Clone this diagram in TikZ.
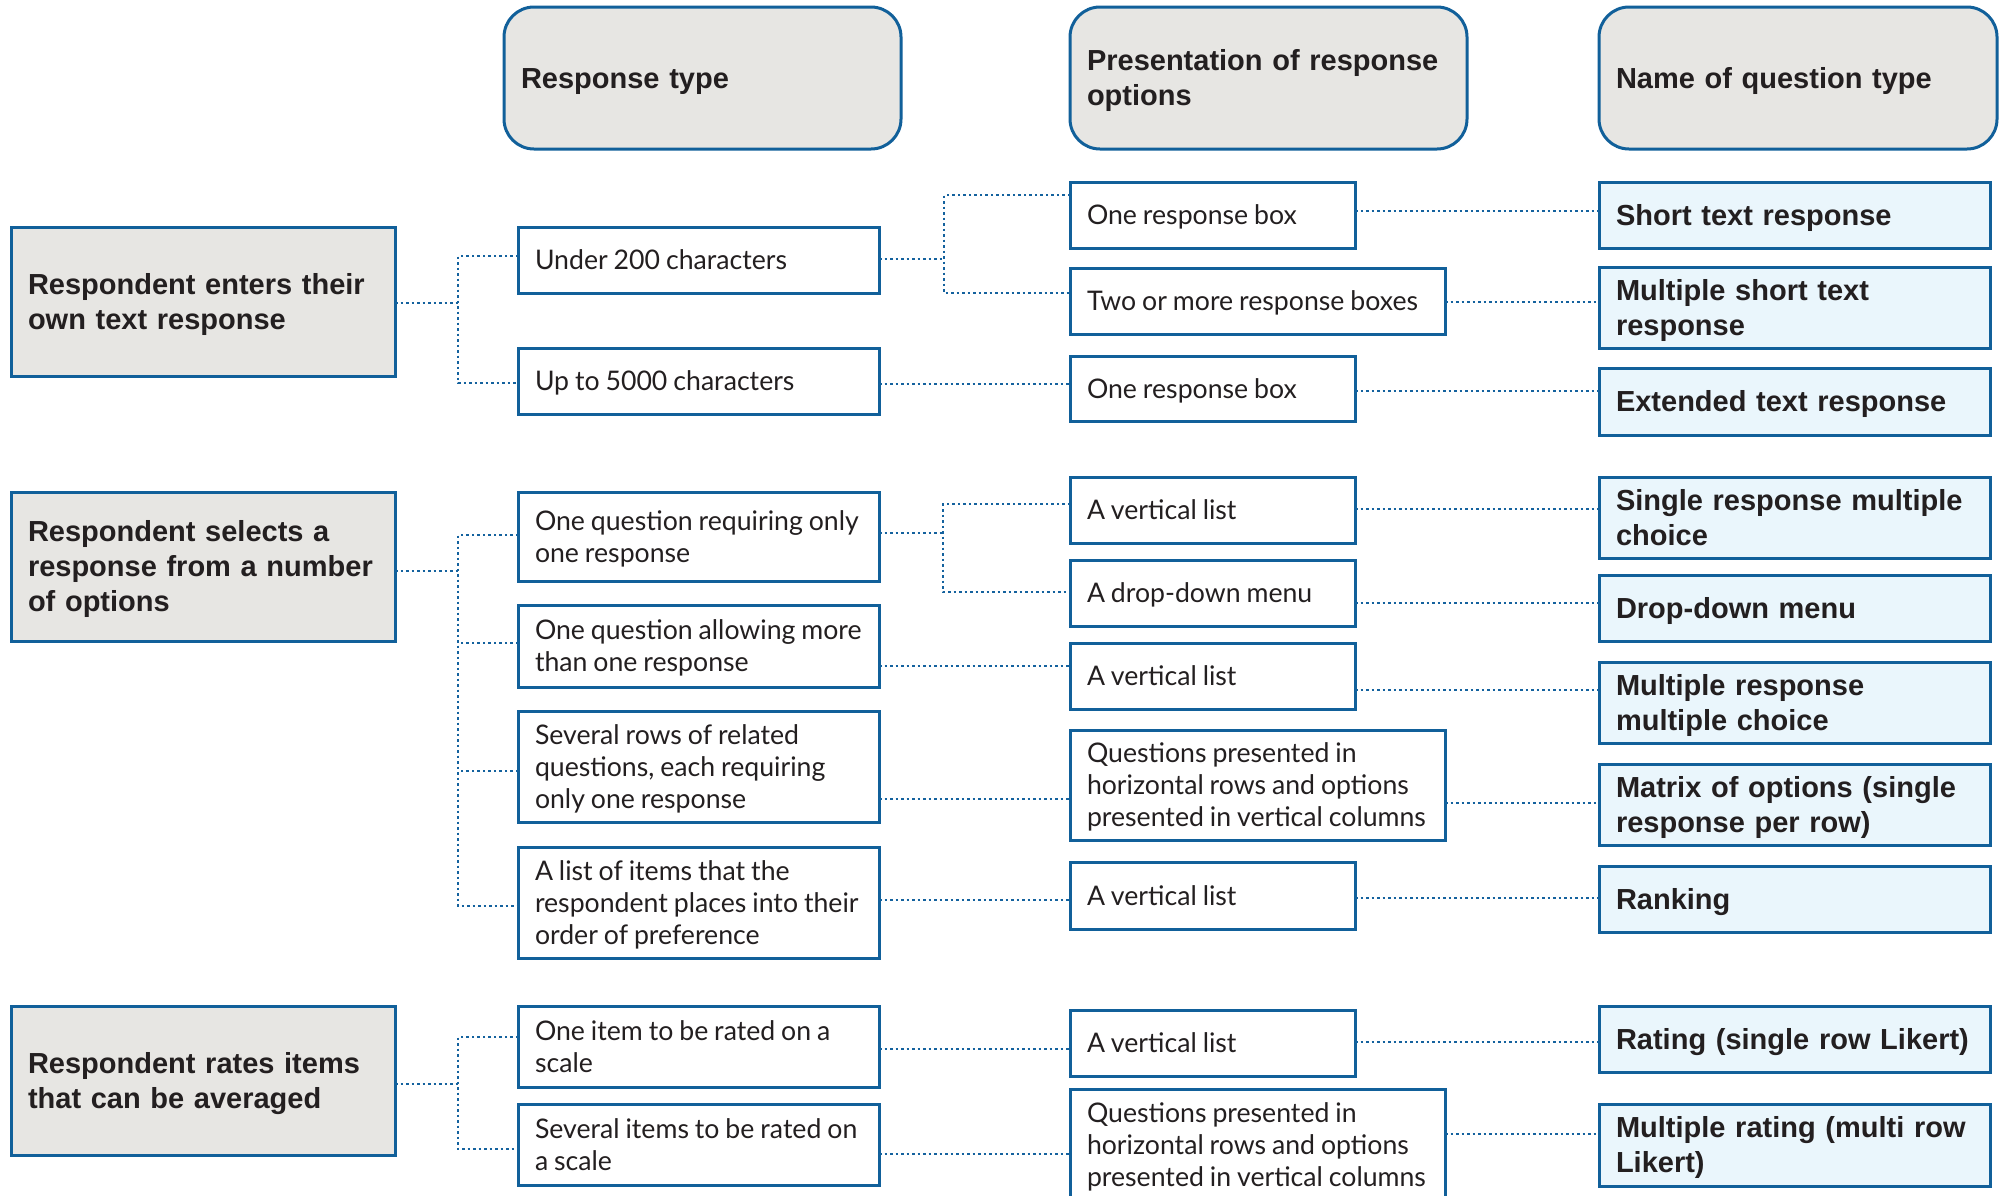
\documentclass[tikz,border=0pt]{standalone}
\usepackage{fontspec}
\setmainfont{Lato}[FakeStretch=0.987]
\newfontfamily\hdfont{Liberation Sans}
\definecolor{bordc}{RGB}{17,96,154}
\definecolor{linkc}{RGB}{20,98,158}
\definecolor{grayc}{RGB}{231,230,227}
\definecolor{bluec}{RGB}{234,246,252}
\definecolor{txtc}{RGB}{35,31,32}
\begin{document}
\begin{tikzpicture}[x=1pt,y=-1pt,
  base/.style={draw=bordc, line width=3pt, inner xsep=17pt, inner ysep=0pt,
    outer sep=0pt, anchor=north west, align=left, text=txtc,
    execute at begin node={\rule{0pt}{0.966em}},
    execute at end node={\rule[-0.25em]{0pt}{0pt}}},
  hdr/.style={base, fill=grayc, rounded corners=30pt, font=\hdfont\bfseries\fontsize{29}{35}\selectfont},
  cat/.style={base, fill=grayc, font=\hdfont\bfseries\fontsize{29}{35}\selectfont},
  opt/.style={base, fill=white, font=\fontsize{27}{32}\selectfont,
    execute at begin node={\spaceskip=0.87\fontdimen2\font plus 0.2em minus 0.05em\relax\rule{0pt}{0.966em}}},
  qt/.style={base, fill=bluec, font=\hdfont\bfseries\fontsize{29}{35}\selectfont},
  link/.style={draw=linkc, line width=2.6pt, dash pattern=on 2.5pt off 3pt}
]
\useasboundingbox[fill=white] (0,0) rectangle (2001,1195);

% headers
\node[hdr, text width=363pt, minimum height=142pt] (H1) at (504,7) {Response type};
\node[hdr, text width=363pt, minimum height=142pt] (H2) at (1070,7) {\mbox{Presentation of response}\\options};
\node[hdr, text width=364pt, minimum height=142pt] (H3) at (1599,7) {Name of question type};

% categories
\node[cat, text width=350pt, minimum height=149pt] (L1) at (11,227) {\mbox{Respondent enters their}\\own text response};
\node[cat, text width=350pt, minimum height=149pt] (L2) at (11,492) {\mbox{Respondent selects a}\\\mbox{response from a number}\\of options};
\node[cat, text width=350pt, minimum height=149pt] (L3) at (11,1006) {\mbox{Respondent rates items}\\\mbox{that can be averaged}};

% response types
\node[opt, text width=327pt, minimum height=66pt] (B1) at (518,227) {Under 200 characters};
\node[opt, text width=327pt, minimum height=66pt] (B2) at (518,348) {Up to 5000 characters};
\node[opt, text width=327pt, minimum height=89pt] (B3) at (518,492) {\mbox{One question requiring only}\\one response};
\node[opt, text width=327pt, minimum height=82pt] (B4) at (518,605) {\mbox{One question allowing more}\\\mbox{than one response}};
\node[opt, text width=327pt, minimum height=111pt] (B5) at (518,711) {\mbox{Several rows of related}\\\mbox{questions, each requiring}\\\mbox{only one response}};
\node[opt, text width=327pt, minimum height=111pt] (B6) at (518,847) {\mbox{A list of items that the}\\\mbox{respondent places into their}\\\mbox{order of preference}};
\node[opt, text width=327pt, minimum height=81pt] (B7) at (518,1006) {\mbox{One item to be rated on a}\\scale};
\node[opt, text width=327pt, minimum height=81pt] (B8) at (518,1104) {\mbox{Several items to be rated on}\\a scale};

% presentation
\node[opt, text width=251pt, minimum height=66pt] (C1) at (1070,182) {One response box};
\node[opt, text width=341pt, minimum height=66pt] (C2) at (1070,268) {\mbox{Two or more response boxes}};
\node[opt, text width=251pt, minimum height=65pt] (C3) at (1070,356) {One response box};
\node[opt, text width=251pt, minimum height=66pt] (C4) at (1070,477) {A vertical list};
\node[opt, text width=251pt, minimum height=66pt] (C5) at (1070,560) {A drop-down menu};
\node[opt, text width=251pt, minimum height=66pt] (C6) at (1070,643) {A vertical list};
\node[opt, text width=341pt, minimum height=110pt] (C7) at (1070,730) {\mbox{Questions presented in}\\\mbox{horizontal rows and options}\\\mbox{presented in vertical columns}};
\node[opt, text width=251pt, minimum height=67pt] (C8) at (1070,862) {A vertical list};
\node[opt, text width=251pt, minimum height=66pt] (C9) at (1070,1010) {A vertical list};
\node[opt, text width=341pt, minimum height=111pt] (C10) at (1070,1089) {\mbox{Questions presented in}\\\mbox{horizontal rows and options}\\\mbox{presented in vertical columns}};

% question types
\node[qt, text width=357pt, minimum height=66pt] (D1) at (1599,182) {Short text response};
\node[qt, text width=357pt, minimum height=81pt] (D2) at (1599,267) {\mbox{Multiple short text}\\response};
\node[qt, text width=357pt, minimum height=67pt] (D3) at (1599,368) {\mbox{Extended text response}};
\node[qt, text width=357pt, minimum height=81pt] (D4) at (1599,477) {\mbox{Single response multiple}\\choice};
\node[qt, text width=357pt, minimum height=66pt] (D5) at (1599,575) {Drop-down menu};
\node[qt, text width=357pt, minimum height=81pt] (D6) at (1599,662) {\mbox{Multiple response}\\\mbox{multiple choice}};
\node[qt, text width=357pt, minimum height=81pt] (D7) at (1599,764) {\mbox{Matrix of options (single}\\\mbox{response per row)}};
\node[qt, text width=357pt, minimum height=66pt] (D8) at (1599,866) {Ranking};
\node[qt, text width=357pt, minimum height=66pt] (D9) at (1599,1006) {\mbox{Rating (single row Likert)}};
\node[qt, text width=357pt, minimum height=82pt] (D10) at (1599,1104) {\mbox{Multiple rating (multi row}\\Likert)};

% junction coordinates
\coordinate (jA) at (458,383);
\coordinate (jB) at (944,293);
\coordinate (jC) at (458,906);
\coordinate (jD) at (943,592);
\coordinate (jE) at (458,1149);

% group 1
\draw[link] (L1.east |- 0,303) -- (jA |- 0,303);
\draw[link] (B1.west |- 0,256) -| (jA) -- (B2.west |- jA);
\draw[link] (B1.east |- 0,259) -- (jB |- 0,259);
\draw[link] (C1.west |- 0,195) -| (jB) -- (C2.west |- jB);
\draw[link] (B2.east |- 0,384) -- (C3.west |- 0,384);
\draw[link] (C1.east |- 0,211) -- (D1.west |- 0,211);
\draw[link] (C2.east |- 0,302) -- (D2.west |- 0,302);
\draw[link] (C3.east |- 0,391) -- (D3.west |- 0,391);

% group 2
\draw[link] (L2.east |- 0,571) -- (jC |- 0,571);
\draw[link] (B3.west |- 0,535) -| (jC) -- (B6.west |- jC);
\draw[link] (B4.west |- 0,643) -- (jC |- 0,643);
\draw[link] (B5.west |- 0,771) -- (jC |- 0,771);
\draw[link] (B3.east |- 0,533) -- (jD |- 0,533);
\draw[link] (C4.west |- 0,504) -| (jD) -- (C5.west |- jD);
\draw[link] (B4.east |- 0,666) -- (C6.west |- 0,666);
\draw[link] (B5.east |- 0,799) -- (C7.west |- 0,799);
\draw[link] (B6.east |- 0,900) -- (C8.west |- 0,900);
\draw[link] (C4.east |- 0,509) -- (D4.west |- 0,509);
\draw[link] (C5.east |- 0,603) -- (D5.west |- 0,603);
\draw[link] (C6.east |- 0,690) -- (D6.west |- 0,690);
\draw[link] (C7.east |- 0,803) -- (D7.west |- 0,803);
\draw[link] (C8.east |- 0,898) -- (D8.west |- 0,898);

% group 3
\draw[link] (L3.east |- 0,1084) -- (jE |- 0,1084);
\draw[link] (B7.west |- 0,1037) -| (jE) -- (B8.west |- jE);
\draw[link] (B7.east |- 0,1049) -- (C9.west |- 0,1049);
\draw[link] (B8.east |- 0,1154) -- (C10.west |- 0,1154);
\draw[link] (C9.east |- 0,1042) -- (D9.west |- 0,1042);
\draw[link] (C10.east |- 0,1134) -- (D10.west |- 0,1134);
\end{tikzpicture}
\end{document}
